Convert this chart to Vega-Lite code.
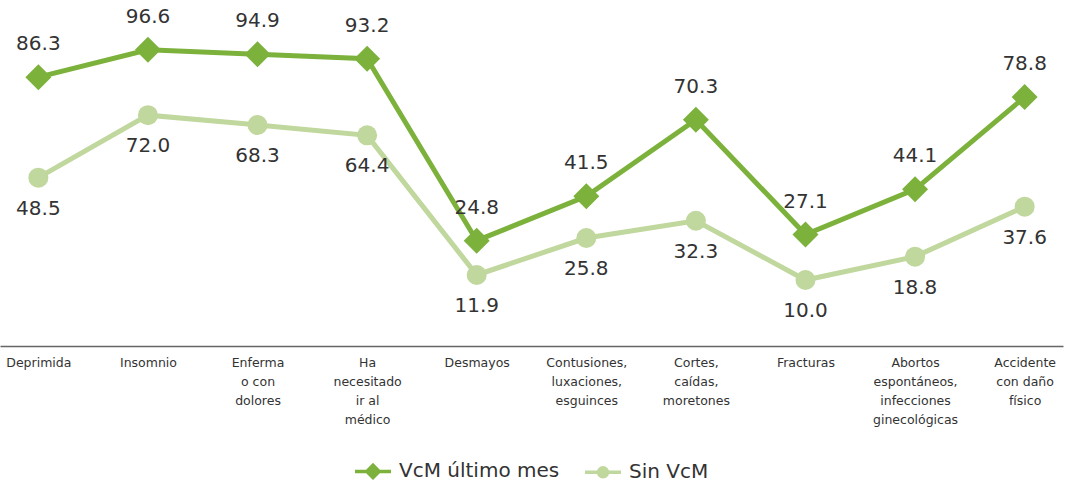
{
  "$schema": "https://vega.github.io/schema/vega-lite/v6.json",
  "width": 1063,
  "height": 346,
  "autosize": "none",
  "padding": {"left": 0, "top": 0, "right": 6, "bottom": 136},
  "background": "white",
  "config": {"view": {"stroke": null}, "font": "DejaVu Sans"},
  "data": {"values": [
    {"cat": "Deprimida", "serie": "VcM último mes", "valor": 86.3},
    {"cat": "Insomnio", "serie": "VcM último mes", "valor": 96.6},
    {"cat": "Enferma|o con|dolores", "serie": "VcM último mes", "valor": 94.9},
    {"cat": "Ha|necesitado|ir al|médico", "serie": "VcM último mes", "valor": 93.2},
    {"cat": "Desmayos", "serie": "VcM último mes", "valor": 24.8},
    {"cat": "Contusiones,|luxaciones,|esguinces", "serie": "VcM último mes", "valor": 41.5},
    {"cat": "Cortes,|caídas,|moretones", "serie": "VcM último mes", "valor": 70.3},
    {"cat": "Fracturas", "serie": "VcM último mes", "valor": 27.1},
    {"cat": "Abortos|espontáneos,|infecciones|ginecológicas", "serie": "VcM último mes", "valor": 44.1},
    {"cat": "Accidente|con daño|físico", "serie": "VcM último mes", "valor": 78.8},
    {"cat": "Deprimida", "serie": "Sin VcM", "valor": 48.5},
    {"cat": "Insomnio", "serie": "Sin VcM", "valor": 72.0},
    {"cat": "Enferma|o con|dolores", "serie": "Sin VcM", "valor": 68.3},
    {"cat": "Ha|necesitado|ir al|médico", "serie": "Sin VcM", "valor": 64.4},
    {"cat": "Desmayos", "serie": "Sin VcM", "valor": 11.9},
    {"cat": "Contusiones,|luxaciones,|esguinces", "serie": "Sin VcM", "valor": 25.8},
    {"cat": "Cortes,|caídas,|moretones", "serie": "Sin VcM", "valor": 32.3},
    {"cat": "Fracturas", "serie": "Sin VcM", "valor": 10.0},
    {"cat": "Abortos|espontáneos,|infecciones|ginecológicas", "serie": "Sin VcM", "valor": 18.8},
    {"cat": "Accidente|con daño|físico", "serie": "Sin VcM", "valor": 37.6}
  ]},
  "encoding": {
    "x": {
      "field": "cat", "type": "nominal", "sort": null,
      "scale": {"type": "point", "padding": 0.35},
      "axis": {
        "title": null, "labelAngle": 0, "ticks": false, "domainColor": "#666666", "domainWidth": 1.5,
        "labelExpr": "split(datum.value, '|')", "labelFontSize": 12.5, "labelColor": "#333333",
        "labelLineHeight": 19, "labelPadding": 10, "labelBaseline": "top", "labelFont": "DejaVu Sans"
      }
    },
    "y": {
      "field": "valor", "type": "quantitative",
      "scale": {"domain": [-14.8, 115.3], "nice": false, "zero": false},
      "axis": null
    }
  },
  "layer": [
    {
      "mark": {"type": "line", "strokeWidth": 5},
      "encoding": {
        "color": {"field": "serie", "type": "nominal", "scale": {"domain": ["VcM último mes", "Sin VcM"], "range": ["#7cb23c", "#c0d79d"]}}
      }
    },
    {
      "mark": {"type": "point", "filled": true, "opacity": 1},
      "encoding": {
        "color": {"field": "serie", "type": "nominal"},
        "shape": {"field": "serie", "type": "nominal", "scale": {"domain": ["VcM último mes", "Sin VcM"], "range": ["M-1.5,0H1.5M-0.51,0L0,-0.51L0.51,0L0,0.51Z", "M-1.5,0H1.5M0.37,0A0.37,0.37,0,1,1,-0.37,0A0.37,0.37,0,1,1,0.37,0Z"]}, "legend": {
          "title": null, "orient": "none", "direction": "horizontal", "legendX": 359, "legendY": 457,
          "symbolSize": 576, "symbolStrokeWidth": 3.5, "labelLimit": 300,
          "labelFontSize": 20, "labelColor": "#333333", "labelFont": "DejaVu Sans", "columnPadding": 18, "labelOffset": 12
        }},
        "size": {"value": 0}
      }
    },
    {
      "mark": {"type": "point", "filled": true, "opacity": 1},
      "encoding": {
        "color": {"field": "serie", "type": "nominal"},
        "shape": {"condition": {"test": "datum.serie === 'Sin VcM'", "value": "circle"}, "value": "diamond"},
        "size": {"condition": {"test": "datum.serie === 'Sin VcM'", "value": 400}, "value": 676}
      }
    },
    {
      "transform": [{"filter": "datum.serie === 'VcM último mes'"}],
      "mark": {"type": "text", "dy": -33, "fontSize": 20, "color": "#333333", "font": "DejaVu Sans"},
      "encoding": {"text": {"field": "valor", "type": "quantitative", "format": ".1f"}}
    },
    {
      "transform": [{"filter": "datum.serie === 'Sin VcM'"}],
      "mark": {"type": "text", "dy": 31, "fontSize": 20, "color": "#333333", "font": "DejaVu Sans"},
      "encoding": {"text": {"field": "valor", "type": "quantitative", "format": ".1f"}}
    }
  ]
}
